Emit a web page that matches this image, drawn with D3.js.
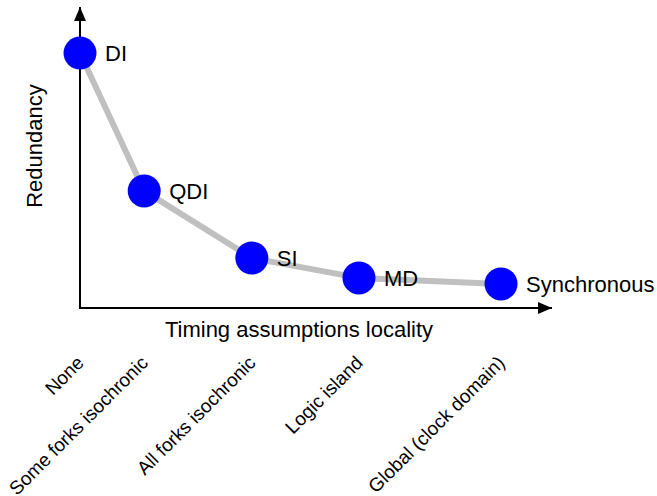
<!DOCTYPE html>
<html>
<head>
<meta charset="utf-8">
<script src="https://cdn.jsdelivr.net/npm/d3@7"></script>
<style>
  html, body { margin: 0; padding: 0; background: #fff; }
  text { font-family: "Liberation Sans", Arial, sans-serif; fill: #000; }
</style>
</head>
<body>
<svg id="chart" width="657" height="496"></svg>
<script>
// Data
const categories = ["None", "Some forks isochronic", "All forks isochronic", "Logic island", "Global (clock domain)"];
const xValues = [0, 13.6, 36.4, 59.1, 89.2];          // timing assumptions locality (relative)
const redundancy = [84.7, 38.9, 16.6, 10.0, 8.0];     // redundancy (relative)
const pointLabels = ["DI", "QDI", "SI", "MD", "Synchronous"];
const xTitle = "Timing assumptions locality";
const yTitle = "Redundancy";

const svg = d3.select("#chart");
const x = d3.scaleLinear().domain([0, 100]).range([80, 552]);
const y = d3.scaleLinear().domain([0, 100]).range([308, 7]);

// Arrow marker
const defs = svg.append("defs");
defs.append("marker")
  .attr("id", "arrow")
  .attr("viewBox", "0 0 14 12")
  .attr("refX", 14).attr("refY", 6)
  .attr("markerWidth", 14).attr("markerHeight", 12)
  .attr("markerUnits", "userSpaceOnUse")
  .attr("orient", "auto")
  .append("path").attr("d", "M0,0 L14,6 L0,12 Z").attr("fill", "#000");

// Axes
svg.append("line")
  .attr("x1", x(0)).attr("y1", y(0)).attr("x2", x(100)).attr("y2", y(0))
  .attr("stroke", "#000").attr("stroke-width", 2).attr("marker-end", "url(#arrow)");
svg.append("line")
  .attr("x1", x(0)).attr("y1", y(0) + 1).attr("x2", x(0)).attr("y2", y(100))
  .attr("stroke", "#000").attr("stroke-width", 2).attr("marker-end", "url(#arrow)");

// Line
const pts = xValues.map((v, i) => [v, redundancy[i]]);
svg.append("path")
  .datum(pts)
  .attr("d", d3.line().x(d => x(d[0])).y(d => y(d[1])))
  .attr("fill", "none")
  .attr("stroke", "#c0c0c0")
  .attr("stroke-width", 6)
  .attr("stroke-linejoin", "round");

// Points
svg.selectAll("circle.pt")
  .data(pts).enter().append("circle")
  .attr("class", "pt")
  .attr("cx", d => x(d[0])).attr("cy", d => y(d[1]))
  .attr("r", 16.5)
  .attr("fill", "#0000ff");

// Point labels
svg.selectAll("text.plabel")
  .data(pts).enter().append("text")
  .attr("class", "plabel")
  .attr("x", d => x(d[0]) + 25)
  .attr("y", d => y(d[1]))
  .attr("dy", "0.36em")
  .style("font-size", "22px")
  .text((d, i) => pointLabels[i]);

// Tick labels (rotated)
svg.selectAll("text.tick")
  .data(categories).enter().append("text")
  .attr("class", "tick")
  .attr("text-anchor", "end")
  .attr("transform", (d, i) => `translate(${x(xValues[i]) + 5},364) rotate(-45)`)
  .style("font-size", "19px")
  .text(d => d);

// Axis titles
svg.append("text")
  .attr("x", 299).attr("y", 337)
  .attr("text-anchor", "middle")
  .style("font-size", "22px")
  .text(xTitle);
svg.append("text")
  .attr("transform", "translate(42,146) rotate(-90)")
  .attr("text-anchor", "middle")
  .style("font-size", "22px")
  .text(yTitle);
</script>
</body>
</html>
